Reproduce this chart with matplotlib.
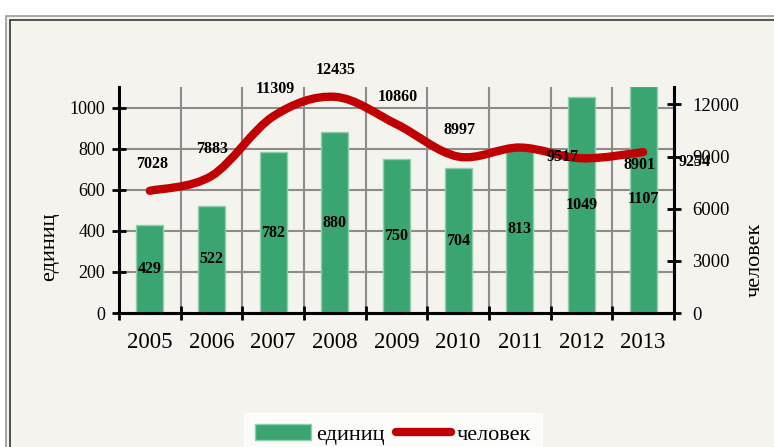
import numpy as np
import matplotlib
matplotlib.use("Agg")
import matplotlib.pyplot as plt
from matplotlib.path import Path
from matplotlib.patches import PathPatch, Rectangle, Patch
from matplotlib.lines import Line2D

years = ['2005', '2006', '2007', '2008', '2009', '2010', '2011', '2012', '2013']
units = [429, 522, 782, 880, 750, 704, 813, 1049, 1107]          # единиц (bars)
people = [7028, 7883, 11309, 12435, 10860, 8997, 9517, 8901, 9254]  # человек (line)

# where the line labels sit, offset from their point (pixels)
people_label_offsets = [(2, 27), (1, 27), (2, 27), (1, 27), (1, 27), (1, 27),
                        (43, -9), (58, -7), (51, -10)]

plt.rcParams['font.family'] = ['Liberation Serif', 'DejaVu Serif']

bg = '#F4F3EE'
green = '#3BA571'
red = '#C00000'

fig = plt.figure(figsize=(7.74, 4.47), dpi=100)
fig.patch.set_facecolor('white')

# outer panel with double border (runs off the right/bottom edge)
W, H = 774, 447
fig.patches.append(Rectangle((6 / W, -0.1), 1.2, (H - 16) / H + 0.1, transform=fig.transFigure,
                             facecolor=bg, edgecolor='#9A9A9A', lw=1.2, zorder=-10))
fig.patches.append(Rectangle((10 / W, -0.1), 1.2, (H - 20) / H + 0.1, transform=fig.transFigure,
                             facecolor='none', edgecolor='#333333', lw=1.2, zorder=-10))

ax = fig.add_axes([119 / W, (H - 313) / H, 555 / W, 226 / H])
ax.set_facecolor('none')
ax2 = ax.twinx()
ax.set_zorder(1)
ax2.set_zorder(2)

x = np.arange(len(years))
bars = ax.bar(x, units, width=0.44, color=green, edgecolor='#8ED0AE', linewidth=1.0, zorder=2)
for xi, v in zip(x, units):
    ax.text(xi, v / 2, str(v), ha='center', va='center', fontsize=11.5,
            fontweight='bold', zorder=5)

ax.set_xlim(-0.5, len(years) - 0.5)
ax.set_ylim(0, 1100)
ax.set_yticks([0, 200, 400, 600, 800, 1000])
ax.set_xticks(x)
ax.set_xticklabels(years, fontsize=16.5)
ax.set_xticks(np.arange(-0.5, len(years)), minor=True)
ax.tick_params(axis='x', which='major', length=0, pad=14)
ax.tick_params(axis='x', which='minor', direction='inout', length=10, width=2)
ax.tick_params(axis='y', direction='inout', length=10, width=2, labelsize=13, pad=5)
ax.grid(True, axis='y', which='major', color='#8C8C8C', lw=1.5, zorder=1)
ax.grid(True, axis='x', which='minor', color='#8C8C8C', lw=1.5, zorder=1)
ax.set_axisbelow(True)

ax.spines['top'].set_visible(False)
ax.spines['right'].set_visible(False)
ax2.spines['top'].set_visible(False)
ax.spines['left'].set_linewidth(2.2)
ax.spines['bottom'].set_linewidth(2.2)
ax2.spines['right'].set_linewidth(2.2)
ax2.spines['left'].set_visible(False)
ax2.spines['bottom'].set_visible(False)

ax2.set_ylim(0, 13000)
ax2.set_yticks([0, 3000, 6000, 9000, 12000])
ax2.tick_params(axis='y', direction='inout', length=10, width=2, labelsize=13.5, pad=8)

# smooth line through the points (Catmull-Rom as cubic Bezier)
pts = np.column_stack([x, people]).astype(float)
ext = np.vstack([pts[0], pts, pts[-1]])
verts = [pts[0]]
codes = [Path.MOVETO]
for i in range(1, len(ext) - 2):
    p0, p1, p2, p3 = ext[i - 1], ext[i], ext[i + 1], ext[i + 2]
    verts += [p1 + (p2 - p0) / 6, p2 - (p3 - p1) / 6, p2]
    codes += [Path.CURVE4] * 3
line = PathPatch(Path(verts, codes), facecolor='none', edgecolor=red, lw=6,
                 capstyle='round', joinstyle='round', zorder=3)
ax2.add_patch(line)

for xi, v, off in zip(x, people, people_label_offsets):
    ax2.annotate(str(v), (xi, v), xytext=off, textcoords='offset pixels',
                 ha='center', va='center', fontsize=11.5, fontweight='bold', zorder=6,
                 annotation_clip=False)

ax.set_ylabel('единиц', fontsize=16)
ax.yaxis.label.set_va('center')
ax.yaxis.set_label_coords((50 - 119) / 555, (313 - 247) / 226)
ax2.set_ylabel('человек', fontsize=16, rotation=90)
ax2.yaxis.label.set_va('center')
ax2.yaxis.set_label_coords((755 - 119) / 555, (313 - 260) / 226)

handles = [Patch(facecolor=green, edgecolor='#8ED0AE'),
           Line2D([0], [0], color=red, lw=6, solid_capstyle='round')]
leg = fig.legend(handles, ['единиц', 'человек'], loc='upper center',
                 bbox_to_anchor=(393 / W, (H - 402) / H), ncol=2, fontsize=16,
                 frameon=True, fancybox=False, handlelength=2.5, handleheight=0.7,
                 handletextpad=0.25, columnspacing=0.5, borderpad=0.5)
leg.get_frame().set_facecolor('white')
leg.get_frame().set_edgecolor('white')

fig.savefig('out.png', dpi=100, facecolor=fig.get_facecolor())
